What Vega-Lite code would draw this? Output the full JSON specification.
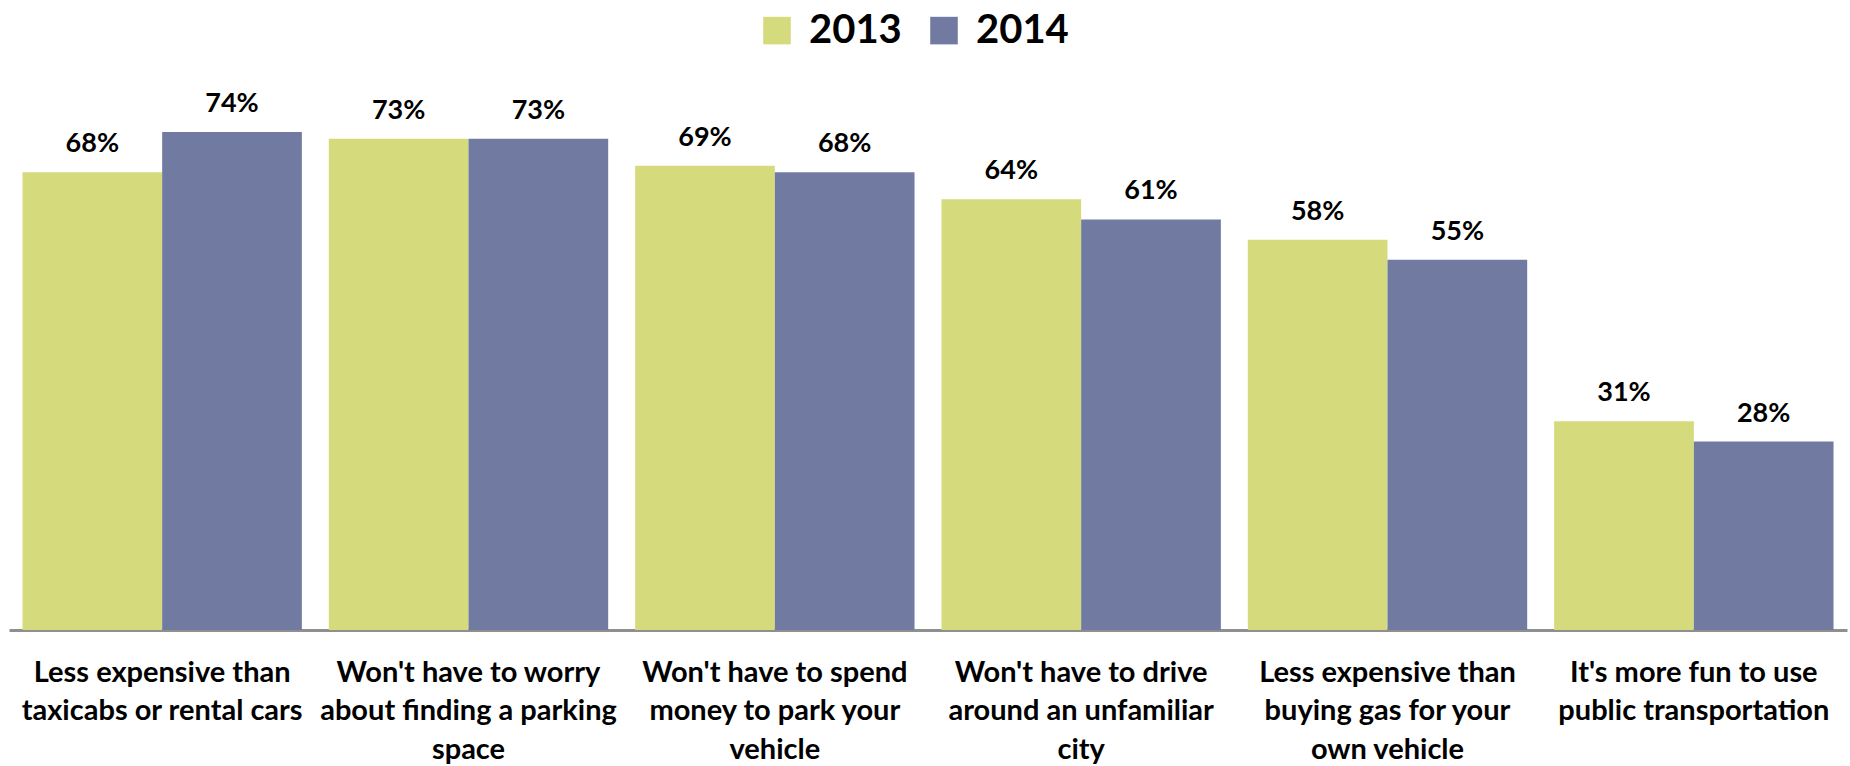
{
  "$schema": "https://vega.github.io/schema/vega-lite/v6.json",
  "autosize": {"type": "none"},
  "width": 1838,
  "height": 538.4,
  "padding": {"left": 9, "top": 91.6, "right": 3, "bottom": 136},
  "background": "white",
  "config": {
    "view": {"stroke": null},
    "font": "Lato",
    "text": {"font": "Lato"}
  },
  "data": {
    "values": [
      {"reason": "Less expensive than|taxicabs or rental cars", "year": "2013", "pct": 0.68},
      {"reason": "Less expensive than|taxicabs or rental cars", "year": "2014", "pct": 0.74},
      {"reason": "Won't have to worry|about finding a parking|space", "year": "2013", "pct": 0.73},
      {"reason": "Won't have to worry|about finding a parking|space", "year": "2014", "pct": 0.73},
      {"reason": "Won't have to spend|money to park your|vehicle", "year": "2013", "pct": 0.69},
      {"reason": "Won't have to spend|money to park your|vehicle", "year": "2014", "pct": 0.68},
      {"reason": "Won't have to drive|around an unfamiliar|city", "year": "2013", "pct": 0.64},
      {"reason": "Won't have to drive|around an unfamiliar|city", "year": "2014", "pct": 0.61},
      {"reason": "Less expensive than|buying gas for your|own vehicle", "year": "2013", "pct": 0.58},
      {"reason": "Less expensive than|buying gas for your|own vehicle", "year": "2014", "pct": 0.55},
      {"reason": "It's more fun to use|public transportation", "year": "2013", "pct": 0.31},
      {"reason": "It's more fun to use|public transportation", "year": "2014", "pct": 0.28}
    ]
  },
  "encoding": {
    "x": {
      "field": "reason",
      "type": "nominal",
      "sort": null,
      "scale": {"paddingInner": 0.088, "paddingOuter": 0.044},
      "axis": {
        "title": null,
        "labelAngle": 0,
        "labelExpr": "split(datum.label, '|')",
        "labelFont": "Lato",
        "labelFontSize": 29,
        "labelFontWeight": "bold",
        "labelColor": "#000000",
        "labelLineHeight": 38.5,
        "labelLimit": 0,
        "labelPadding": 28,
        "labelBaseline": "top",
        "ticks": false,
        "domainColor": "#8f8f8f",
        "domainWidth": 3
      }
    },
    "xOffset": {"field": "year", "type": "nominal"},
    "y": {
      "field": "pct",
      "type": "quantitative",
      "scale": {"domain": [0, 0.8], "nice": false},
      "axis": null
    }
  },
  "layer": [
    {
      "mark": {"type": "bar"},
      "encoding": {
        "color": {
          "field": "year",
          "type": "nominal",
          "scale": {"domain": ["2013", "2014"], "range": ["#D5DB7D", "#717BA1"]},
          "legend": {
            "title": null,
            "orient": "none",
            "legendX": 748,
            "legendY": -81,
            "direction": "horizontal",
            "symbolType": "square",
            "symbolSize": 760,
            "symbolStrokeWidth": 0,
            "labelFont": "Lato",
            "labelFontSize": 40,
            "labelFontWeight": "bold",
            "labelColor": "#000000",
            "labelOffset": 12,
            "columnPadding": 22
          }
        }
      }
    },
    {
      "mark": {"type": "text", "baseline": "alphabetic", "dy": -20, "fontSize": 27, "fontWeight": "bold", "color": "#000000", "font": "Lato"},
      "encoding": {
        "text": {"field": "pct", "type": "quantitative", "format": ".0%"},
        "detail": {"field": "year"}
      }
    }
  ]
}
